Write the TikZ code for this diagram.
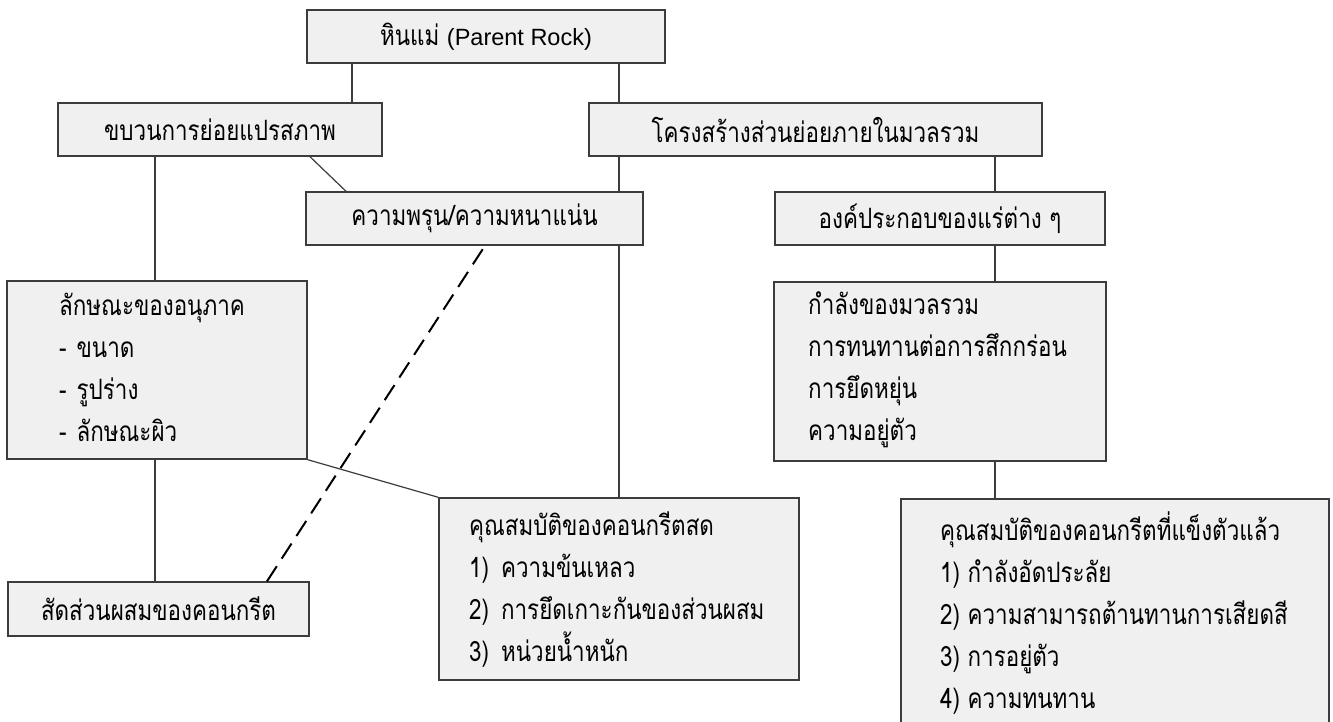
\documentclass[tikz,border=0pt]{standalone}
\usepackage{fontspec}
\setmainfont[Script=Thai, FakeStretch=0.8]{Loma}
\newfontfamily\latinfont{Liberation Sans}
\definecolor{boxfill}{RGB}{240,240,240}
\definecolor{boxline}{RGB}{60,60,60}
\tikzset{
  box/.style={draw=boxline, fill=boxfill, line width=1.4pt, inner sep=0pt, font=\fontsize{28}{42}\selectfont},
  txt/.style={inner sep=0pt, align=left, anchor=west, font=\fontsize{28}{42}\selectfont},
  link/.style={draw=boxline, line width=1.2pt},
  dlink/.style={draw=black, line width=2pt, dash pattern=on 18pt off 9pt}
}
\begin{document}
\begin{tikzpicture}[x=1pt,y=-1pt]
\clip (0,0) rectangle (1333,722);
\fill[white] (0,0) rectangle (1333,722);
% boxes
\node[box, minimum width=358pt, minimum height=53pt] (root) at (486,36.5) {หินแม่ {\latinfont\fontsize{23.5}{42}\selectfont (Parent Rock)}};
\node[box, minimum width=324pt, minimum height=53pt] (proc) at (220,129.5) {ขบวนการย่อยแปรสภาพ};
\node[box, minimum width=453pt, minimum height=53pt] (struct) at (815.5,129.5) {โครงสร้างส่วนย่อยภายในมวลรวม};
\node[box, minimum width=337pt, minimum height=53pt] (poro) at (474.5,218.5) {ความพรุน/ความหนาแน่น};
\node[box, minimum width=330pt, minimum height=53pt] (mineral) at (940,218.5) {องค์ประกอบของแร่ต่าง ๆ};
\node[box, minimum width=300pt, minimum height=178pt] (particle) at (157,370) {};
\node[box, minimum width=332pt, minimum height=179pt] (strength) at (940,371.5) {};
\node[box, minimum width=301pt, minimum height=54pt] (mix) at (158.5,609) {สัดส่วนผสมของคอนกรีต};
\node[box, minimum width=360pt, minimum height=182pt] (fresh) at (619,589) {};
\node[box, minimum width=428pt, minimum height=300pt] (hard) at (1115,649) {};
% list texts
\node[txt] (particletxt) at (59,367.5) {ลักษณะของอนุภาค\\-\hspace{10pt}ขนาด\\-\hspace{10pt}รูปร่าง\\-\hspace{10pt}ลักษณะผิว};
\node[txt] (strengthtxt) at (808,370) {กำลังของมวลรวม\\การทนทานต่อการสึกกร่อน\\การยึดหยุ่น\\ความอยู่ตัว};
\node[txt] (freshtxt) at (469,589.5) {คุณสมบัติของคอนกรีตสด\\1)\hspace{12pt}ความข้นเหลว\\2)\hspace{12pt}การยึดเกาะกันของส่วนผสม\\3)\hspace{12pt}หน่วยน้ำหนัก};
\node[txt] (hardtxt) at (940,613) {คุณสมบัติของคอนกรีตที่แข็งตัวแล้ว\\1) กำลังอัดประลัย\\2) ความสามารถต้านทานการเสียดสี\\3) การอยู่ตัว\\4) ความทนทาน};
% connectors
\draw[link] (352,0 |- root.south) -- (352,0 |- proc.north);
\draw[link] (619,0 |- root.south) -- (619,0 |- struct.north);
\draw[link] (155,0 |- proc.south) -- (155,0 |- particle.north);
\draw[link] (310,0 |- proc.south) -- (346,0 |- poro.north);
\draw[link] (619,0 |- struct.south) -- (619,0 |- poro.north);
\draw[link] (619,0 |- poro.south) -- (619,0 |- fresh.north);
\draw[link] (995,0 |- struct.south) -- (995,0 |- mineral.north);
\draw[link] (995,0 |- mineral.south) -- (995,0 |- strength.north);
\draw[link] (995,0 |- strength.south) -- (995,0 |- hard.north);
\draw[link] (155,0 |- particle.south) -- (155,0 |- mix.north);
\draw[link] (particle.south east) -- (fresh.north west);
\draw[dlink] (267,0 |- mix.north) -- (485,0 |- poro.south);
\end{tikzpicture}
\end{document}
